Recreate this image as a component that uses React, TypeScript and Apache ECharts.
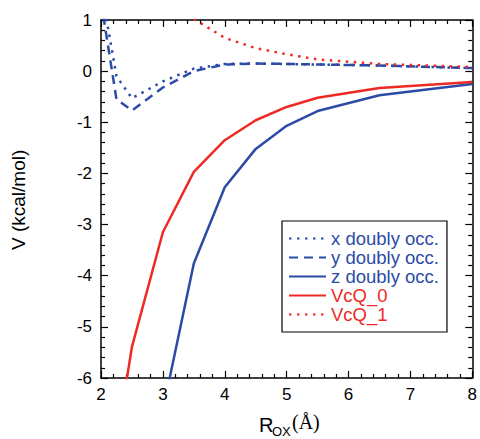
import React, { useEffect, useRef } from "react";
import * as echarts from "echarts";

const xDoublyX = [2.0, 2.25, 2.5, 3.0, 3.5, 4.0, 4.5, 5.0, 5.5, 6.5, 8.0];
const xDoublyV = [1.64, -0.1, -0.53, -0.2, 0.05, 0.14, 0.15, 0.14, 0.13, 0.11, 0.06];

const yDoublyX = [2.0, 2.25, 2.5, 3.0, 3.5, 4.0, 4.5, 5.0, 5.5, 6.5, 8.0];
const yDoublyV = [1.37, -0.55, -0.77, -0.32, 0.0, 0.13, 0.15, 0.14, 0.13, 0.11, 0.06];

const zDoublyX = [3.0, 3.5, 4.0, 4.5, 5.0, 5.5, 6.5, 8.0];
const zDoublyV = [-6.63, -3.76, -2.27, -1.52, -1.07, -0.78, -0.47, -0.25];

const vcq0X = [2.4, 2.5, 3.0, 3.5, 4.0, 4.5, 5.0, 5.5, 6.5, 8.0];
const vcq0V = [-6.15, -5.39, -3.15, -1.97, -1.35, -0.96, -0.7, -0.52, -0.33, -0.21];

const vcq1X = [3.5, 4.0, 4.5, 5.0, 5.5, 6.5, 8.0];
const vcq1V = [1.02, 0.65, 0.45, 0.33, 0.23, 0.14, 0.08];

const seriesNames = ["x doubly occ.", "y doubly occ.", "z doubly occ.", "VcQ_0", "VcQ_1"];

const BLUE = "#2B4BA6";
const RED = "#EE2A24";
const FONT = "'Liberation Sans', Arial, Helvetica, sans-serif";

function pairs(xs: number[], vs: number[]) {
  return xs.map((x, i) => [x, vs[i]]);
}

export default function App() {
  const ref = useRef<HTMLDivElement>(null);
  useEffect(() => {
    if (!ref.current) return;
    const chart = echarts.init(ref.current, null, { renderer: "svg" });
    const axisCommon = {
      axisLine: { show: true, onZero: false, lineStyle: { color: "#000", width: 1.5 } },
      axisTick: { show: true, inside: true, length: 7, lineStyle: { color: "#000", width: 1.2 } },
      minorTick: { show: true, splitNumber: 5, length: 4, lineStyle: { color: "#000", width: 1.2 } },
      splitLine: { show: false },
      minorSplitLine: { show: false },
    };
    const styles = [
      { color: BLUE, type: [2.5, 5.5] },
      { color: BLUE, type: [9, 6] },
      { color: BLUE, type: "solid" },
      { color: RED, type: "solid" },
      { color: RED, type: [2.5, 5.5] },
    ];
    const datas = [
      pairs(xDoublyX, xDoublyV),
      pairs(yDoublyX, yDoublyV),
      pairs(zDoublyX, zDoublyV),
      pairs(vcq0X, vcq0V),
      pairs(vcq1X, vcq1V),
    ];
    chart.setOption({
      animation: false,
      grid: { left: 101, right: 5, top: 20, bottom: 61, containLabel: false },
      xAxis: [
        {
          type: "value",
          min: 2,
          max: 8,
          interval: 1,
          position: "bottom",
          ...axisCommon,
          axisLabel: { show: true, margin: 8, color: "#000", fontSize: 17, fontFamily: FONT },
        },
        {
          type: "value",
          min: 2,
          max: 8,
          interval: 1,
          position: "top",
          ...axisCommon,
          axisLabel: { show: false },
        },
      ],
      yAxis: [
        {
          type: "value",
          min: -6,
          max: 1,
          interval: 1,
          position: "left",
          ...axisCommon,
          axisLabel: { show: true, margin: 9, color: "#000", fontSize: 17, fontFamily: FONT },
        },
        {
          type: "value",
          min: -6,
          max: 1,
          interval: 1,
          position: "right",
          ...axisCommon,
          axisLabel: { show: false },
        },
      ],
      legend: {
        orient: "vertical",
        left: 282,
        top: 221,
        padding: [8, 8, 8, 6],
        itemGap: 0,
        itemWidth: 37,
        itemHeight: 10,
        borderColor: "#000",
        borderWidth: 1.2,
        backgroundColor: "#fff",
        itemStyle: { color: "rgba(0,0,0,0)", borderWidth: 0, opacity: 0 },
        textStyle: { fontSize: 18.5, fontFamily: FONT, lineHeight: 17 },
        data: seriesNames.map((n, i) => ({
          name: n,
          textStyle: { color: i < 3 ? BLUE : RED },
        })),
      },
      graphic: [
        {
          type: "text",
          x: 9,
          y: 250,
          rotation: Math.PI / 2,
          style: { text: "V (kcal/mol)", fontSize: 19, fontFamily: FONT, fill: "#000" },
        },
        {
          type: "text",
          x: 259,
          y: 415,
          style: { text: "R", fontSize: 20, fontFamily: FONT, fill: "#000" },
        },
        {
          type: "text",
          x: 272,
          y: 425,
          style: { text: "OX", fontSize: 13, fontFamily: FONT, fill: "#000" },
        },
        {
          type: "text",
          x: 292,
          y: 412,
          style: { text: "(Å)", fontSize: 20, fontFamily: "'Liberation Serif', 'Times New Roman', serif", fill: "#000" },
        },
      ],
      series: seriesNames.map((n, i) => ({
        name: n,
        type: "line",
        xAxisIndex: 0,
        yAxisIndex: 0,
        data: datas[i],
        symbol: "none",
        showSymbol: false,
        clip: true,
        color: styles[i].color,
        lineStyle: { color: styles[i].color, width: 2.5, type: styles[i].type },
      })),
    });
    return () => chart.dispose();
  }, []);
  return <div ref={ref} style={{ width: 480, height: 439, position: "absolute", left: 0, top: 0 }} />;
}
